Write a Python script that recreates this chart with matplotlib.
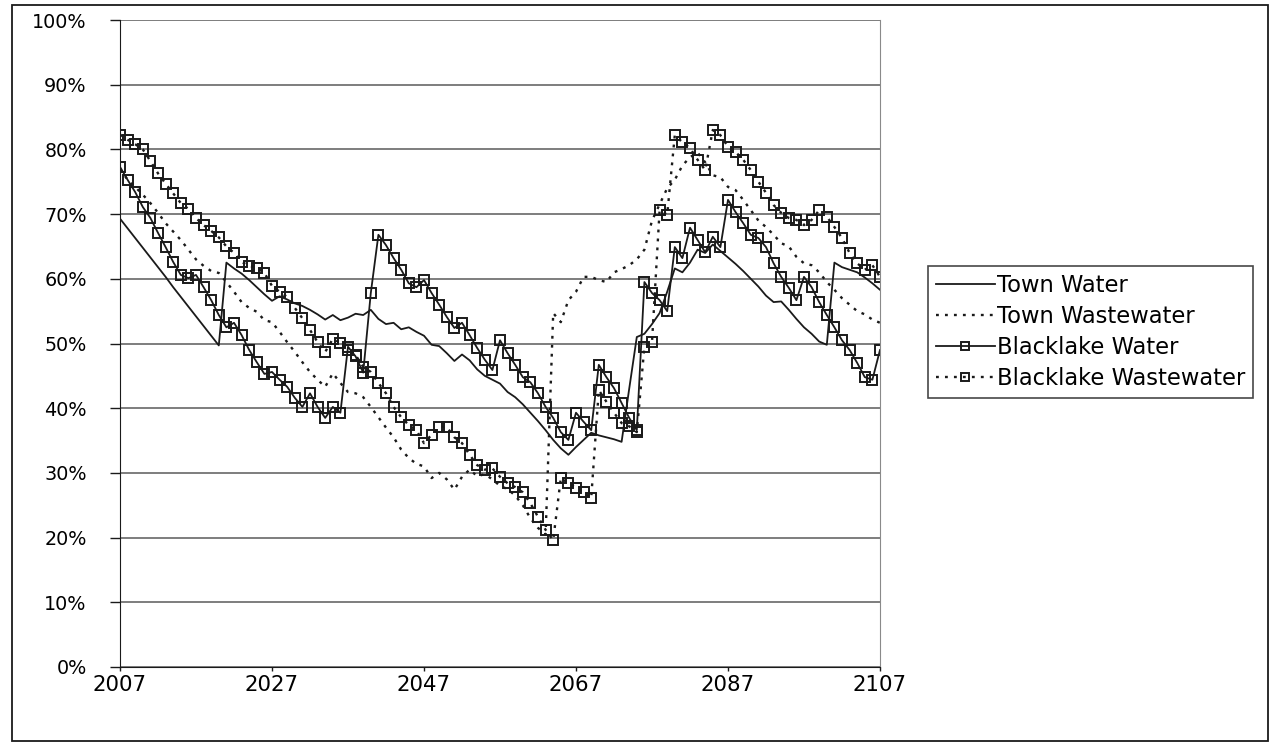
import numpy as np
import matplotlib
matplotlib.use("Agg")
import matplotlib.pyplot as plt
from matplotlib.patches import Rectangle

years = np.arange(2007, 2108)

town_water = [
    69.3, 67.8, 66.3, 64.8, 63.3, 61.8, 60.3, 58.7, 57.2, 55.7,
    54.2, 52.7, 51.2, 49.7, 62.5, 61.6, 60.8, 59.8, 58.7, 57.6,
    56.6, 57.3, 56.8, 56.2, 55.8, 55.2, 54.5, 53.7, 54.4, 53.6,
    54.0, 54.6, 54.4, 55.2, 53.8, 53.0, 53.2, 52.2, 52.5, 51.8,
    51.2, 49.8, 49.6, 48.5, 47.3, 48.3, 47.4, 46.0, 45.0, 44.4,
    43.8, 42.5, 41.7, 40.6, 39.3, 38.0, 36.6, 35.1, 33.8, 32.8,
    34.0, 35.1, 36.2, 35.8, 35.5, 35.2, 34.8, 43.0, 51.0, 51.5,
    53.0, 54.7, 58.0, 61.6, 61.0, 62.5, 64.5, 64.0, 65.3, 64.3,
    63.3, 62.3, 61.2, 60.0, 58.8, 57.4, 56.4, 56.5, 55.2, 53.8,
    52.5, 51.5, 50.3, 49.8, 62.5, 61.8, 61.4, 61.0, 60.2, 59.3,
    58.3,
]

town_wastewater = [
    77.0, 75.3, 74.2, 73.0, 71.7, 70.2, 68.6, 67.3, 66.0, 64.5,
    63.0, 62.0, 61.2, 60.9, 59.5, 58.0, 56.4, 55.5, 54.9, 53.6,
    53.3, 51.8, 50.2, 48.7, 47.1, 45.6, 44.4, 43.3, 45.4, 43.9,
    42.5, 42.3, 41.7, 40.2, 38.6, 37.0, 35.5, 33.6, 32.3, 31.4,
    31.0, 29.2, 30.0, 29.0, 27.4, 29.4, 30.5, 29.5, 29.8, 29.0,
    28.0, 27.5, 26.5, 25.0, 23.0, 21.5, 20.5, 54.7, 53.3, 56.7,
    58.0, 60.3, 60.3, 59.8, 59.5, 61.0, 61.5, 62.1, 63.0, 64.5,
    69.0, 71.5, 74.0, 75.3, 77.5, 78.8, 79.5, 78.0, 76.0, 75.7,
    74.2, 73.7, 72.2, 70.6, 69.0, 68.0, 66.8, 65.5, 65.0, 63.4,
    62.4, 62.1, 61.0, 59.5, 58.3, 57.0, 56.0, 55.0, 54.5, 53.7,
    53.2,
]

blacklake_water = [
    77.3, 75.3, 73.4, 71.1, 69.4, 67.1, 64.9, 62.6, 60.6, 60.1,
    60.6, 58.7, 56.7, 54.4, 52.5, 53.2, 51.3, 49.0, 47.1, 45.3,
    45.6, 44.4, 43.3, 41.6, 40.2, 42.3, 40.2, 38.5, 40.2, 39.3,
    49.5, 48.0, 45.5, 57.8, 66.8, 65.2, 63.2, 61.4, 59.3, 58.7,
    59.8, 57.8, 56.0, 54.1, 52.4, 53.2, 51.3, 49.3, 47.5, 45.9,
    50.5, 48.5, 46.7, 44.8, 44.0, 42.3, 40.2, 38.5, 36.3, 35.1,
    39.3, 37.9, 36.6, 46.7, 44.8, 43.1, 40.8, 38.5, 36.6, 59.5,
    57.8, 56.7, 55.0, 64.9, 63.2, 67.9, 66.0, 64.1, 66.5, 64.9,
    72.2, 70.3, 68.6, 66.8, 66.3, 64.9, 62.4, 60.3, 58.6, 56.7,
    60.3, 58.7, 56.4, 54.4, 52.5, 50.5, 49.0, 47.0, 44.8, 44.4,
    49.0,
]

blacklake_wastewater = [
    82.3, 81.5, 80.8, 80.0, 78.2, 76.3, 74.7, 73.2, 71.7, 70.8,
    69.4, 68.3, 67.4, 66.4, 65.0, 64.0, 62.6, 62.0, 61.7, 60.9,
    58.9, 58.0, 57.2, 55.5, 53.9, 52.1, 50.2, 48.7, 50.7, 50.1,
    49.0, 48.2, 46.4, 45.6, 43.9, 42.3, 40.2, 38.6, 37.4, 36.6,
    34.6, 35.9, 37.1, 37.1, 35.5, 34.6, 32.8, 31.2, 30.5, 30.7,
    29.4, 28.4, 27.8, 27.0, 25.3, 23.2, 21.2, 19.6, 29.2, 28.4,
    27.7, 27.0, 26.1, 42.8, 41.0, 39.3, 37.7, 37.2, 36.3, 49.5,
    50.2, 70.6, 69.9, 82.2, 81.1, 80.2, 78.4, 76.8, 83.0, 82.2,
    80.4, 79.6, 78.4, 76.8, 75.0, 73.3, 71.4, 70.2, 69.4, 69.1,
    68.3, 69.1, 70.6, 69.6, 68.0, 66.3, 64.0, 62.4, 61.4, 62.1,
    60.3,
]

series_labels = ["Town Water", "Town Wastewater", "Blacklake Water", "Blacklake Wastewater"]
x_ticks = [2007, 2027, 2047, 2067, 2087, 2107]
y_ticks = np.arange(0, 101, 10)

plt.rcParams["font.family"] = ["DejaVu Sans"]
ink = "#1a1a1a"

W, H = 1275, 747
fig = plt.figure(figsize=(W / 100, H / 100), dpi=100)
fig.patches.append(Rectangle((12 / W, 6 / H), 1256 / W, 736 / H, transform=fig.transFigure,
                             fill=False, edgecolor=ink, linewidth=1.3))

ax = fig.add_axes([120 / W, 1 - 667 / H, 760 / W, 647 / H])

dotted = (0, (1.2, 2.6))
ax.plot(years, town_water, color=ink, lw=1.3, label=series_labels[0])
ax.plot(years, town_wastewater, color=ink, lw=1.7, ls=dotted, label=series_labels[1])
ax.plot(years, blacklake_water, color=ink, lw=1.3, marker="s", ms=6.8,
        mfc="none", mec=ink, mew=1.4, label=series_labels[2])
ax.plot(years, blacklake_wastewater, color=ink, lw=1.7, ls=dotted, marker="s", ms=7.2,
        mfc="none", mec=ink, mew=1.4, label=series_labels[3])

ax.set_xlim(2007, 2107)
ax.set_ylim(0, 100)
ax.set_xticks(x_ticks)
ax.set_yticks(y_ticks)
ax.set_yticklabels([f"{v}%" for v in y_ticks])
ax.yaxis.grid(True, color="#5a5a5a", lw=1.1)
ax.set_axisbelow(True)
ax.spines["top"].set_visible(False)
ax.spines["right"].set_color("#8a8a8a")
ax.spines["left"].set_color(ink)
ax.spines["bottom"].set_color(ink)
ax.tick_params(axis="y", length=7, width=1.0, color=ink, labelsize=13.8, pad=17)
ax.tick_params(axis="x", length=3, width=1.0, color=ink, labelsize=15.3, pad=3)

leg = fig.legend(loc="upper left", bbox_to_anchor=(928 / W, 1 - 266 / H),
                 frameon=True, fancybox=False, edgecolor=ink, fontsize=16.3,
                 handlelength=2.6, handletextpad=0.1, labelspacing=0.35,
                 borderpad=0.35, borderaxespad=0.0)
leg.get_frame().set_linewidth(1.2)
for h in leg.legend_handles[2:]:
    h.set_markersize(5.5)

fig.savefig("out.png", dpi=100, facecolor="white")
